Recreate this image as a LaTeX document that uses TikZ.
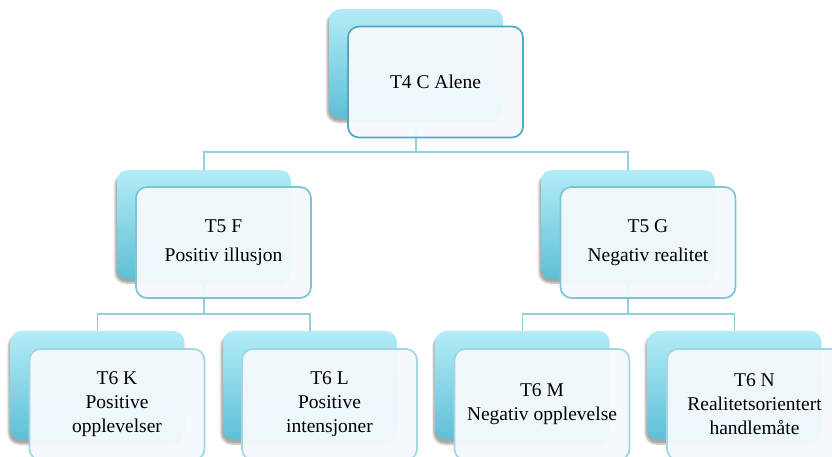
\documentclass[tikz,border=0pt]{standalone}
\usepackage{fontspec}
\setmainfont{Liberation Serif}
\usetikzlibrary{shadows.blur}
\definecolor{backtop}{HTML}{B3ECF7}
\definecolor{backbot}{HTML}{5EBFD6}
\definecolor{frontfill}{HTML}{F3F9FC}
\definecolor{edgeA}{HTML}{4EA9C3}
\definecolor{edgeB}{HTML}{7DC4D6}
\definecolor{edgeC}{HTML}{A3D5E2}
\definecolor{wire}{HTML}{93D0DF}
\tikzset{
  backbox/.style={rectangle, rounded corners=11pt, minimum width=174pt, minimum height=109pt,
    inner sep=0pt, top color=backtop, bottom color=backbot, draw=none,
    blur shadow={shadow xshift=-2pt, shadow yshift=-4pt, shadow blur steps=6, shadow opacity=35}},
  frontbox/.style={rectangle, rounded corners=11pt, minimum width=175pt, minimum height=111pt,
    inner sep=0pt, fill=frontfill, fill opacity=0.97, text opacity=1, line width=1.7pt,
    align=center, font=\fontsize{19.5}{24}\selectfont, text=black},
  wireline/.style={draw=wire, line width=1.5pt},
}
\begin{document}
\begin{tikzpicture}[x=1pt,y=-1pt]
\useasboundingbox (0,0) rectangle (832,456);
\clip (0,0) rectangle (832,456);

% back (shaded) cards
\node[backbox] (cB) at (416,63.5) {};
\node[backbox] (fB) at (204,224.5) {};
\node[backbox] (gB) at (628,224.5) {};
\node[backbox] (kB) at (97.5,385.5) {};
\node[backbox] (lB) at (310,385.5) {};
\node[backbox] (mB) at (522.5,385.5) {};
\node[backbox] (nB) at (734.5,385.5) {};

% connectors
\draw[wireline] (cB.south) -- ++(0,34) -| (fB.north);
\draw[wireline] (cB.south) -- ++(0,34) -| (gB.north);
\draw[wireline] (fB.south) -- ++(0,35) -| (kB.north);
\draw[wireline] (fB.south) -- ++(0,35) -| (lB.north);
\draw[wireline] (gB.south) -- ++(0,35) -| (mB.north);
\draw[wireline] (gB.south) -- ++(0,35) -| (nB.north);

% front (text) cards
\node[frontbox, draw=edgeA] (c) at (435.5,82) {T4 C Alene};
\node[frontbox, draw=edgeB] (f) at (223.5,242.5) {T5 F\\[5pt]Positiv illusjon};
\node[frontbox, draw=edgeB] (g) at (648,242.5) {T5 G\\[5pt]Negativ realitet};
\node[frontbox, draw=edgeC] (k) at (117,404.5) {T6 K\\Positive\\opplevelser};
\node[frontbox, draw=edgeC] (l) at (329.5,404.5) {T6 L\\Positive\\intensjoner};
\node[frontbox, draw=edgeC] (m) at (542,404.5) {T6 M\\Negativ opplevelse};
\node[frontbox, draw=edgeC] (n) at (754.5,404.5) {T6 N\\Realitetsorientert\\handlemåte};
\end{tikzpicture}
\end{document}
